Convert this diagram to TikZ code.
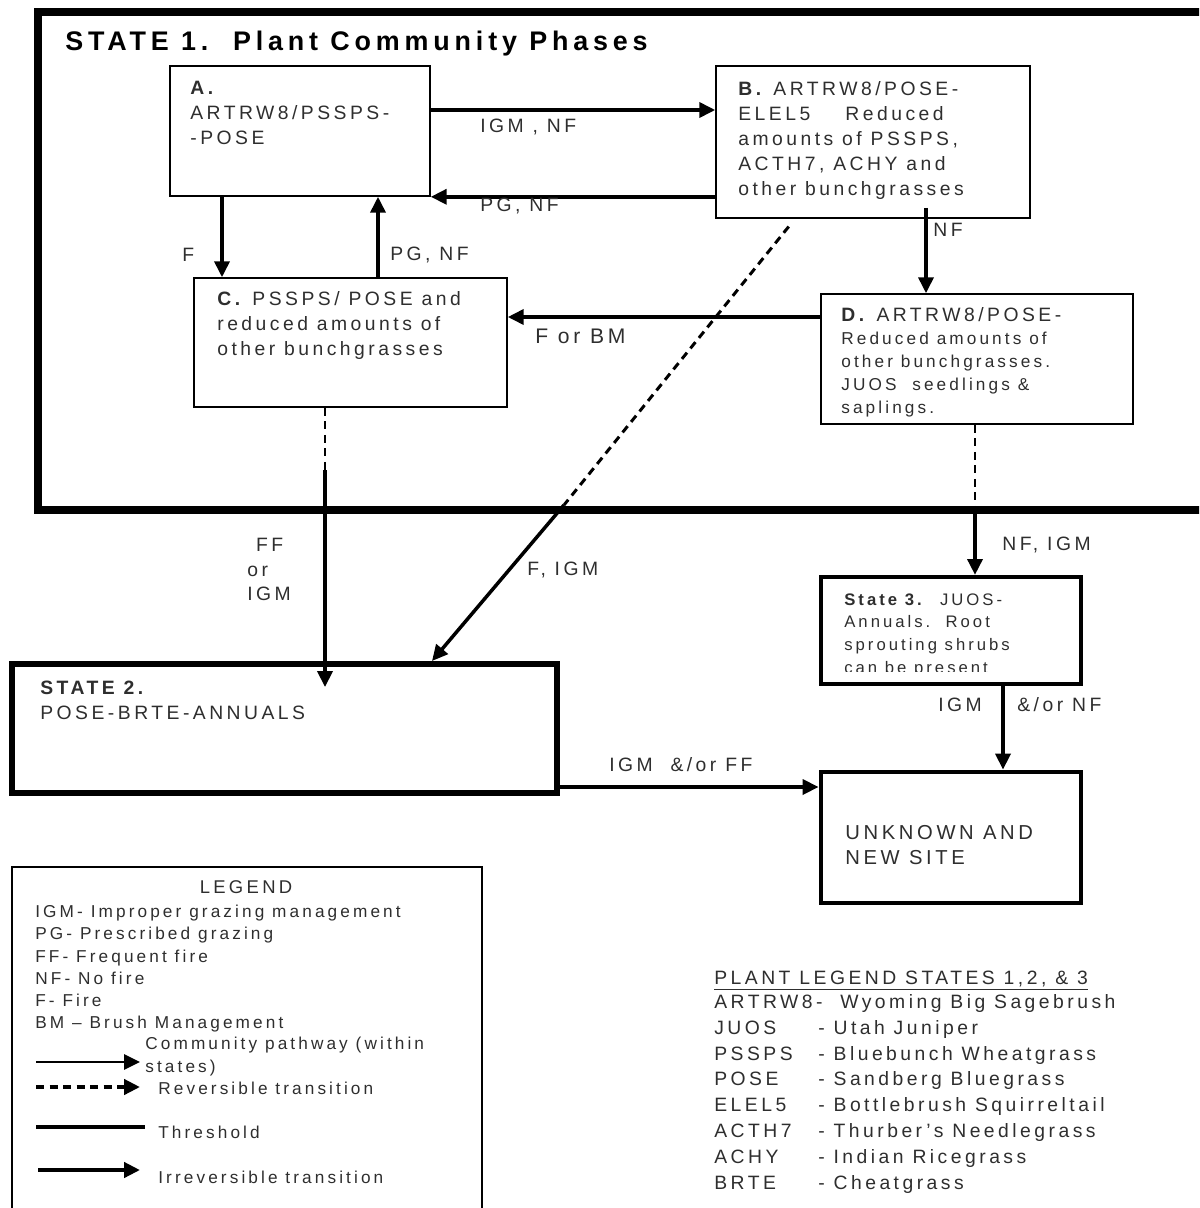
\documentclass[tikz,border=0pt]{standalone}
\usepackage{fontspec}
\setmainfont{Liberation Sans}[LetterSpace=18]
\usetikzlibrary{arrows.meta, positioning, calc}
\definecolor{ink}{gray}{0.18}
\tikzset{
  phase/.style={draw, line width=0.9pt, inner sep=0pt},
  stbox/.style={draw, line width=#1, inner sep=0pt},
  txt/.style={anchor=north west, inner sep=0pt, align=left, text=ink, font=\fontsize{11}{14.2}\selectfont},
  lbl/.style={anchor=west, inner sep=0pt, text=ink, font=\fontsize{11}{14}\selectfont},
  arr/.style={-{Triangle[length=9pt,width=8.5pt]}, line width=2pt},
  revline/.style={line width=1.3pt, dash pattern=on 1.6mm off 1.1mm},
}
\begin{document}
\begin{tikzpicture}[x=0.2mm, y=-0.2mm]
  \useasboundingbox (0,0) rectangle (1199,1208);
  \clip (0,0) rectangle (1199,1208);

  % state 1 with its phases
  \node[stbox=4pt, minimum width=235.4mm, minimum height=99.6mm] (S1) at (626.5,261) {};
  \node[txt, font=\fontsize{15.3}{17}\selectfont\bfseries, text=black] (s1title) at (65,31) {STATE 1.\ \ Plant Community Phases};
  \node[phase, minimum width=52mm, minimum height=26mm] (A) at (300,131) {};
  \node[phase, minimum width=62.8mm, minimum height=30.4mm] (B) at (873,142) {};
  \node[phase, minimum width=62.6mm, minimum height=25.8mm] (C) at (350.5,342.5) {};
  \node[phase, minimum width=62.4mm, minimum height=26mm] (D) at (977,359) {};
  \node[txt] (Atxt) at (190,81) {\textbf{A.}\\ARTRW8/PSSPS-\\-POSE};
  \node[txt] (Btxt) at (738,81) {\textbf{B.} ARTRW8/POSE-\\ELEL5\hspace{20pt}Reduced\\amounts of PSSPS,\\ACTH7, ACHY and\\other bunchgrasses};
  \node[txt] (Ctxt) at (217,291) {\textbf{C.} PSSPS/ POSE and\\reduced amounts of\\other bunchgrasses};
  \node[txt] (Dhead) at (841,307) {\textbf{D.} ARTRW8/POSE-};
  \node[txt, font=\fontsize{9.8}{13}\selectfont] (Dtxt) at (841,332) {Reduced amounts of\\other bunchgrasses.\\JUOS\ \ seedlings \&\\saplings.};

  % other states
  \node[stbox=3.4pt, minimum width=109mm, minimum height=25.8mm] (S2) at (284.5,728.5) {};
  \node[txt] (S2txt) at (40,681) {\textbf{STATE 2.}\\POSE-BRTE-ANNUALS};
  \node[stbox=2.4pt, minimum width=52mm, minimum height=21.4mm] (S3) at (951,630.5) {};
  \begin{scope}
    \clip (821,577) rectangle (1081,671);
    \node[txt, font=\fontsize{9.5}{13}\selectfont] (S3txt) at (844,593) {\textbf{State 3.}\ \ JUOS-\\Annuals.\ \ Root\\sprouting shrubs\\can be present};
  \end{scope}
  \node[stbox=2.8pt, minimum width=52mm, minimum height=26.2mm] (U) at (951,837.5) {};
  \node[txt, font=\fontsize{11.5}{14.2}\selectfont] (Utxt) at (845,825) {UNKNOWN AND\\NEW SITE};

  % pathways and transitions
  \draw[arr] (A.east |- 0,110) -- (B.west |- 0,110);
  \draw[arr] (B.west |- A.south east) -- (A.south east);
  \draw[arr] (A.south -| 222,0) -- (C.north -| 222,0);
  \draw[arr] (C.north -| 378,0) -- (A.south -| 378,0);
  \draw[arr, shorten <=-2.2mm] (B.south -| 926,0) -- (D.north -| 926,0);
  \draw[arr] (D.west |- 0,317) -- (C.east |- 0,317);
  \draw[revline] (C.south -| 325,0) -- (325,470) coordinate (c2);
  \draw[arr, shorten >=-5.2mm] (c2) -- (S2.north -| 325,0);
  \draw[revline, line width=1.7pt, shorten <=2mm] (B.south -| 795,0) -- (564,505) coordinate (b2);
  \draw[arr] (b2) -- (S2.north -| 432,0);
  \draw[revline] (D.south -| 975,0) -- (975,510) coordinate (d2);
  \draw[arr] (d2) -- (S3.north -| 975,0);
  \draw[arr] (S3.south -| 1003,0) -- (U.north -| 1003,0);
  \draw[arr] (S2.east |- 0,787) -- (U.west |- 0,787);

  \node[lbl] (l1) at (480,127) {IGM , NF};
  \node[lbl] (l2) at (480,206) {PG, NF};
  \node[lbl] (l3) at (182,255) {F};
  \node[lbl] (l4) at (390,255) {PG, NF};
  \node[lbl] (l5) at (933,230) {NF};
  \node[lbl, font=\fontsize{12}{14}\selectfont] (l6) at (535,336) {F or BM};
  \node[txt, font=\fontsize{11}{14}\selectfont] (l7) at (247,538) {\ FF\\or\\IGM};
  \node[lbl] (l8) at (527,570) {F, IGM};
  \node[lbl] (l9) at (1002,545) {NF, IGM};
  \node[lbl] (l10) at (938,705) {IGM};
  \node[lbl] (l11) at (1017,705) {\&/or NF};
  \node[lbl] (l12) at (609,765) {IGM\ \ \&/or FF};

  % legend
  \node[phase, line width=1.2pt, minimum width=94mm, minimum height=69.6mm] (leg) at (247,1041) {};
  \node[lbl, anchor=center, font=\fontsize{10.5}{12}\selectfont] (legtitle) at (246,887) {LEGEND};
  \node[txt, font=\fontsize{9.8}{12.6}\selectfont] (legtxt) at (35,905) {IGM- Improper grazing management\\PG- Prescribed grazing\\FF- Frequent fire\\NF- No fire\\F- Fire\\BM -- Brush Management};
  \draw[arr, line width=1.6pt] (36,1062) -- (140,1062);
  \draw[revline, line width=2.2pt, -{Triangle[length=9pt,width=8.5pt]}] (36,1087) -- (140,1087);
  \draw[line width=2.2pt] (36,1127) -- (145,1127);
  \draw[arr, line width=2.2pt] (38,1170) -- (140,1170);
  \node[txt, font=\fontsize{9.8}{13}\selectfont] (legp) at (145,1037) {Community pathway (within\\states)};
  \node[lbl, font=\fontsize{9.8}{12}\selectfont] (legr) at (158,1088) {Reversible transition};
  \node[lbl, font=\fontsize{9.8}{12}\selectfont] (legt) at (158,1132) {Threshold};
  \node[lbl, font=\fontsize{9.8}{12}\selectfont] (legi) at (158,1177) {Irreversible transition};

  % plant legend
  \node[lbl, anchor=base west] (plhead) at (714,984) {\underline{PLANT LEGEND STATES 1,2, \& 3}};
  \node[txt, font=\fontsize{11}{14.7}\selectfont] (pllist) at (714,994) {ARTRW8-\ \ Wyoming Big Sagebrush\\
    \makebox[20.8mm][l]{JUOS}- Utah Juniper\\
    \makebox[20.8mm][l]{PSSPS}- Bluebunch Wheatgrass\\
    \makebox[20.8mm][l]{POSE}- Sandberg Bluegrass\\
    \makebox[20.8mm][l]{ELEL5}- Bottlebrush Squirreltail\\
    \makebox[20.8mm][l]{ACTH7}- Thurber's Needlegrass\\
    \makebox[20.8mm][l]{ACHY}- Indian Ricegrass\\
    \makebox[20.8mm][l]{BRTE}- Cheatgrass};
\end{tikzpicture}
\end{document}
